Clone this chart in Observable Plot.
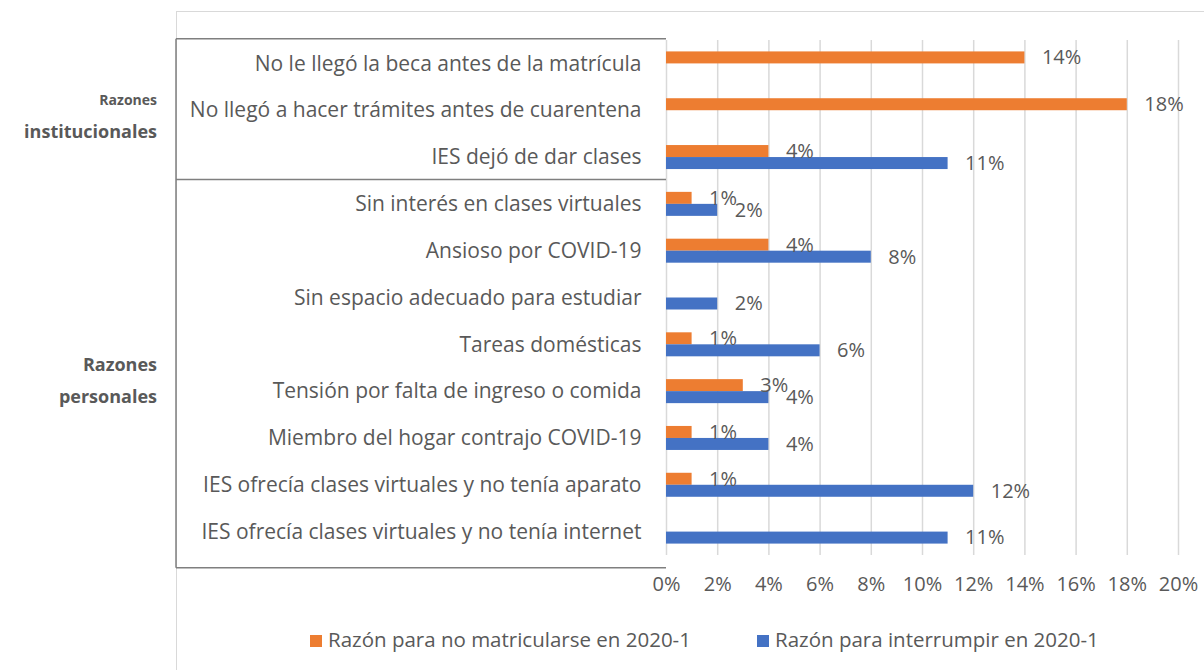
<!DOCTYPE html>
<html><head><meta charset="utf-8">
<script src="https://cdn.jsdelivr.net/npm/d3@7"></script>
<script src="https://cdn.jsdelivr.net/npm/@observablehq/plot@0.6"></script>
<style>
body{margin:0;background:#fff;font-family:"Open Sans", Lato, sans-serif;}
#wrap{position:relative;width:1204px;height:670px;overflow:hidden;}
#frame{position:absolute;left:176px;top:11px;width:1100px;height:700px;border-left:1.5px solid #d9d9d9;border-top:1.5px solid #d9d9d9;}
#chart{position:absolute;left:0;top:0;}
.leg{position:absolute;top:628px;height:22px;line-height:22px;font-size:20.5px;color:#595959;white-space:nowrap;}
.sw{display:inline-block;width:12px;height:12px;vertical-align:middle;margin-right:6px;position:relative;top:-1px;}
</style></head>
<body><div id="wrap"><div id="frame"></div><div id="chart"></div><div id="legend"></div></div>
<script>
const categories = [
  "No le llegó la beca antes de la matrícula",
  "No llegó a hacer trámites antes de cuarentena",
  "IES dejó de dar clases",
  "Sin interés en clases virtuales",
  "Ansioso por COVID-19",
  "Sin espacio adecuado para estudiar",
  "Tareas domésticas",
  "Tensión por falta de ingreso o comida",
  "Miembro del hogar contrajo COVID-19",
  "IES ofrecía clases virtuales y no tenía aparato",
  "IES ofrecía clases virtuales y no tenía internet"
];
const noMatricula = [14, 18, 4, 1, 4, null, 1, 3, 1, 1, null];
const interrumpir = [null, null, 11, 2, 8, 2, 6, 4, 4, 12, 11];
const seriesNames = ["Razón para no matricularse en 2020-1", "Razón para interrumpir en 2020-1"];
const seriesColors = ["#ED7D31", "#4472C4"];
const xTicks = [0, 2, 4, 6, 8, 10, 12, 14, 16, 18, 20];
const groupLabels = [["Razones", "institucionales"], ["Razones", "personales"]];
const groupStarts = [0, 3];
const groupEnds = [2, 10];

const rowsA = categories.map((c, i) => ({category: c, value: noMatricula[i]})).filter(d => d.value != null);
const rowsB = categories.map((c, i) => ({category: c, value: interrumpir[i]})).filter(d => d.value != null);

const H = 615, MT = 40, MB = 60;
const step = (H - MT - MB) / categories.length;
const barH = 12;
const ins = (step - barH) / 2;
const FS = 20;

const plot = Plot.plot({
  width: 1204, height: H,
  marginLeft: 666, marginRight: 26, marginTop: MT, marginBottom: MB,
  x: {domain: [0, 20]},
  y: {domain: categories, padding: 0, round: false},
  style: {fontFamily: "'Open Sans', Lato, sans-serif", fontSize: FS + "px", color: "#595959", background: "transparent", overflow: "visible"},
  marks: [
    Plot.ruleX(xTicks, {stroke: "#d9d9d9", strokeWidth: 1.5}),
    Plot.barX(rowsA, {x: "value", y: "category", fill: seriesColors[0], insetTop: ins, insetBottom: ins, dy: -barH / 2}),
    Plot.barX(rowsB, {x: "value", y: "category", fill: seriesColors[1], insetTop: ins, insetBottom: ins, dy: barH / 2}),
    Plot.text(rowsA, {x: "value", y: "category", text: d => d.value + "%", textAnchor: "start", dx: 17, dy: -barH / 2, fill: "#595959", fontSize: FS}),
    Plot.text(rowsB, {x: "value", y: "category", text: d => d.value + "%", textAnchor: "start", dx: 17, dy: barH / 2, fill: "#595959", fontSize: FS}),
    Plot.axisX({ticks: xTicks, tickFormat: d => d + "%", tickSize: 0, tickPadding: 21, fontSize: FS, label: null}),
    Plot.axisY({tickSize: 0, tickPadding: 25, fontSize: 21, label: null})
  ]
});
document.getElementById("chart").appendChild(plot);

// group separators and labels using the plot's y scale
const ys = plot.scale("y");
const svg = d3.select(plot);
const lineX0 = 176, lineX1 = 666;
const topY = ys.apply(categories[0]) - 1.3;
const midY = ys.apply(categories[groupStarts[1]]) - 1;
const botY = ys.apply(categories[categories.length - 1]) + ys.bandwidth + 12.7;
const g = svg.append("g").attr("stroke", "#7f7f7f").attr("stroke-width", 1.5);
[topY, midY, botY].forEach(yv => g.append("line").attr("x1", lineX0).attr("x2", lineX1).attr("y1", yv).attr("y2", yv));
g.append("line").attr("x1", lineX0).attr("x2", lineX0).attr("y1", topY).attr("y2", botY);

const bounds = [[topY, midY], [midY, botY]];
groupLabels.forEach((lab, gi) => {
  const mid = (bounds[gi][0] + bounds[gi][1]) / 2;
  const t = svg.append("g").attr("font-weight", "bold").attr("fill", "#595959").attr("text-anchor", "end");
  t.append("text").attr("x", 157).attr("y", mid - 9).attr("dy", "0.35em")
    .attr("font-size", gi === 0 ? 14 : 18).text(lab[0]);
  t.append("text").attr("x", 157).attr("y", mid + 23).attr("dy", "0.35em")
    .attr("font-size", 18).text(lab[1]);
});

// legend
const legLefts = [310, 757];
const leg = document.getElementById("legend");
seriesNames.forEach((n, i) => {
  const d = document.createElement("div");
  d.className = "leg";
  d.style.left = legLefts[i] + "px";
  d.innerHTML = `<span class="sw" style="background:${seriesColors[i]}"></span>${n}`;
  leg.appendChild(d);
});
</script>
</body></html>
